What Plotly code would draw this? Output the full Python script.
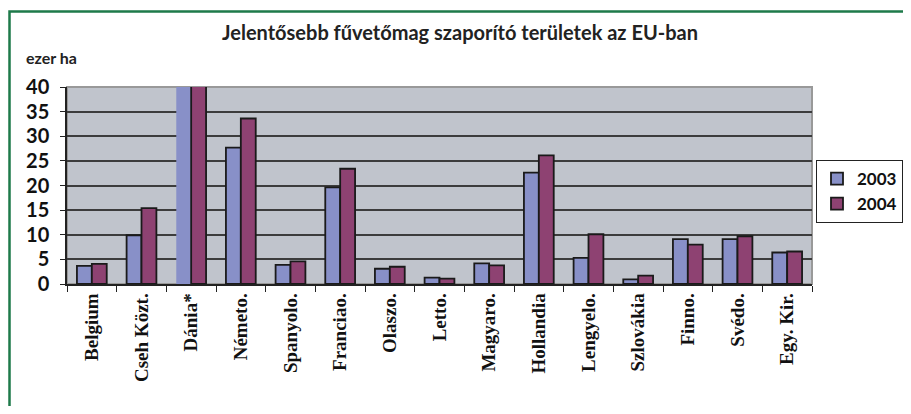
import plotly.graph_objects as go

categories = ["Belgium", "Cseh Közt.", "Dánia*", "Németo.", "Spanyolo.", "Franciao.",
              "Olaszo.", "Letto.", "Magyaro.", "Hollandia", "Lengyelo.", "Szlovákia",
              "Finno.", "Svédo.", "Egy. Kir."]
v2003 = [3.7, 9.9, 60, 27.7, 3.9, 19.6, 3.1, 1.3, 4.2, 22.6, 5.3, 0.95, 9.1, 9.1, 6.4]
v2004 = [4.1, 15.4, 60, 33.6, 4.6, 23.4, 3.5, 1.1, 3.8, 26.1, 10.1, 1.7, 8.0, 9.7, 6.6]
y_ticks = [0, 5, 10, 15, 20, 25, 30, 35, 40]

OFF = 8  # page body margin
W, H = 911 - 2 * OFF, 414 - 2 * OFF
# plot area in window pixels
L, R, T, B = 67, 812, 87, 284

def px(x):
    return (x - L) / (R - L)

def py(y):
    return (B - y) / (B - T)

line2003 = [0 if c == "Dánia*" else 1.8 for c in categories]

fig = go.Figure()
fig.add_trace(go.Bar(x=categories, y=v2003, name="2003",
                     marker=dict(color="#8890C8", line=dict(color="#1a1a1a", width=line2003))))
fig.add_trace(go.Bar(x=categories, y=v2004, name="2004",
                     marker=dict(color="#8E4272", line=dict(color="#1a1a1a", width=1.8))))

fig.update_layout(
    width=W, height=H,
    margin=dict(l=L - OFF, r=(OFF + W) - R, t=T - OFF, b=(OFF + H) - B, pad=0, autoexpand=False),
    paper_bgcolor="white",
    plot_bgcolor="#C0C4CC",
    barmode="group",
    bargap=0.4,
    bargroupgap=0,
    showlegend=True,
    legend=dict(x=px(816), y=py(160), xanchor="left", yanchor="top",
                bordercolor="#222", borderwidth=1, bgcolor="white",
                font=dict(family="Lato", size=17, color="#111", weight="bold"),
                itemwidth=30),
    xaxis=dict(type="category", tickangle=-90, ticks="outside", tickson="boundaries",
               ticklen=6, tickcolor="#222", showline=True, linecolor="#222", linewidth=1.5,
               tickfont=dict(family="Liberation Serif", size=19, color="#111", weight="bold"),
               showgrid=False, fixedrange=True),
    yaxis=dict(range=[0, 40], tickvals=y_ticks, ticks="outside", ticklen=5, tickcolor="#222",
               showline=True, linecolor="#222", linewidth=1.5, ticklabelstandoff=7,
               showgrid=True, gridcolor="#3c3c3c", gridwidth=1.5,
               tickfont=dict(family="Lato", size=20, color="#111", weight="bold"),
               zeroline=False, fixedrange=True),
    shapes=[
        dict(type="rect", xref="paper", yref="paper", x0=0, x1=1, y0=0, y1=1,
             line=dict(color="#999999", width=2), layer="below"),
        dict(type="rect", xref="paper", yref="paper", x0=px(9.5), x1=px(930), y0=py(430), y1=py(11.5),
             line=dict(color="#1E7A4A", width=2.5), layer="above"),
    ],
    annotations=[
        dict(text="Jelentősebb fűvetőmag szaporító területek az EU-ban", xref="paper", yref="paper",
             x=px(460), y=py(32), xanchor="center", yanchor="middle", showarrow=False,
             font=dict(family="Lato", size=20, color="#222", weight="bold")),
        dict(text="ezer ha", xref="paper", yref="paper",
             x=px(24), y=py(57), xanchor="left", yanchor="middle", showarrow=False,
             font=dict(family="Lato", size=16, color="#222", weight="bold")),
    ],
)

fig.write_html("out.html")
